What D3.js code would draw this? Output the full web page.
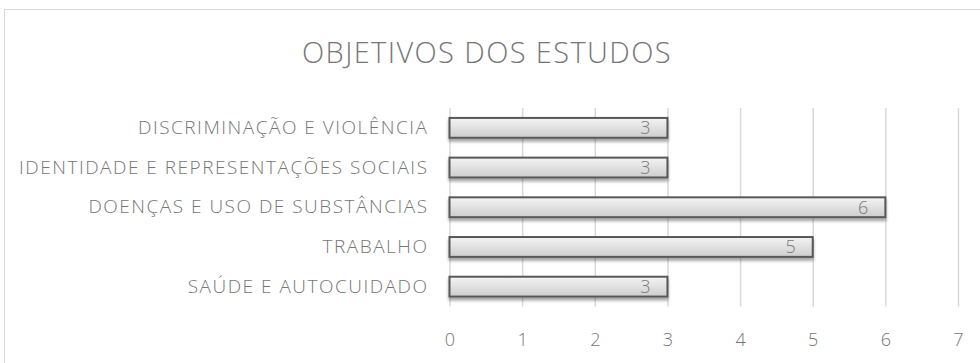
<!DOCTYPE html>
<html>
<head>
<meta charset="utf-8">
<script src="https://cdn.jsdelivr.net/npm/d3@7"></script>
<style>
  html, body { margin: 0; padding: 0; background: #fff; }
  svg { display: block; font-family: "Open Sans", "Noto Sans", sans-serif; font-weight: 300; }
</style>
</head>
<body>
<svg id="chart" width="980" height="363"></svg>
<script>
// Study objectives and number of studies per objective
const chartTitle = "OBJETIVOS DOS ESTUDOS";
const categories = [
  "DISCRIMINAÇÃO E VIOLÊNCIA",
  "IDENTIDADE E REPRESENTAÇÕES SOCIAIS",
  "DOENÇAS E USO DE SUBSTÂNCIAS",
  "TRABALHO",
  "SAÚDE E AUTOCUIDADO"
];
const counts = [3, 3, 6, 5, 3];
const xTicks = [0, 1, 2, 3, 4, 5, 6, 7];

const svg = d3.select("#chart");
const W = 980, H = 363;

// chart frame
svg.append("rect")
  .attr("x", 4.5).attr("y", 9.5)
  .attr("width", W + 10).attr("height", H + 10)
  .attr("fill", "#fff").attr("stroke", "#d9d9d9").attr("stroke-width", 1);

const plot = { left: 449.5, right: 958, top: 108, bottom: 306.5 };

const x = d3.scaleLinear().domain([0, 7]).range([plot.left, plot.right]);
const y = d3.scaleBand().domain(categories)
  .range([plot.top, plot.bottom])
  .paddingInner(0.5).paddingOuter(0.25);

const defs = svg.append("defs");
const grad = defs.append("linearGradient")
  .attr("id", "barFill").attr("x1", 0).attr("y1", 0).attr("x2", 0).attr("y2", 1);
grad.append("stop").attr("offset", "0%").attr("stop-color", "#f4f4f4");
grad.append("stop").attr("offset", "100%").attr("stop-color", "#cdcdcd");

const shadow = defs.append("filter").attr("id", "barShadow")
  .attr("x", "-5%").attr("y", "-30%").attr("width", "110%").attr("height", "180%");
shadow.append("feDropShadow")
  .attr("dx", 0).attr("dy", 3).attr("stdDeviation", 1.8)
  .attr("flood-color", "#000").attr("flood-opacity", 0.35);

// title
svg.append("text")
  .attr("x", 487).attr("y", 63)
  .attr("text-anchor", "middle")
  .attr("font-size", 29)
  .attr("letter-spacing", 1.4)
  .attr("fill", "#767676")
  .text(chartTitle);

// vertical gridlines
svg.append("g")
  .attr("transform", `translate(0,${plot.bottom})`)
  .call(d3.axisBottom(x).tickValues(xTicks).tickSize(-(plot.bottom - plot.top)).tickFormat(""))
  .call(g => g.select(".domain").remove())
  .call(g => g.selectAll("line").attr("stroke", "#d9d9d9").attr("stroke-width", 1.5));

// x tick labels
svg.append("g")
  .attr("transform", `translate(0,${plot.bottom})`)
  .call(d3.axisBottom(x).tickValues(xTicks).tickSize(0).tickPadding(27).tickFormat(d3.format("d")))
  .call(g => g.select(".domain").remove())
  .call(g => g.selectAll("text")
    .attr("font-family", "'Open Sans', sans-serif")
    .attr("font-size", 18)
    .attr("fill", "#767676"));

// category labels
svg.append("g")
  .attr("transform", `translate(${plot.left},0)`)
  .call(d3.axisLeft(y).tickSize(0).tickPadding(21))
  .call(g => g.select(".domain").remove())
  .call(g => g.selectAll("text")
    .attr("font-family", "'Open Sans', sans-serif")
    .attr("font-size", 19)
    .attr("letter-spacing", 1.5)
    .attr("fill", "#767676"));

// bars
const rows = categories.map((c, i) => ({ cat: c, value: counts[i] }));
svg.append("g").selectAll("rect")
  .data(rows)
  .join("rect")
  .attr("x", x(0))
  .attr("y", d => y(d.cat))
  .attr("width", d => x(d.value) - x(0))
  .attr("height", y.bandwidth())
  .attr("fill", "url(#barFill)")
  .attr("stroke", "#595959")
  .attr("stroke-width", 2)
  .attr("filter", "url(#barShadow)");

// value labels inside bar ends
svg.append("g").selectAll("text")
  .data(rows)
  .join("text")
  .attr("x", d => x(d.value) - 17)
  .attr("y", d => y(d.cat) + y.bandwidth() / 2)
  .attr("dy", "0.36em")
  .attr("text-anchor", "end")
  .attr("font-size", 18)
  .attr("fill", "#7a7a7a")
  .text(d => d.value);
</script>
</body>
</html>
